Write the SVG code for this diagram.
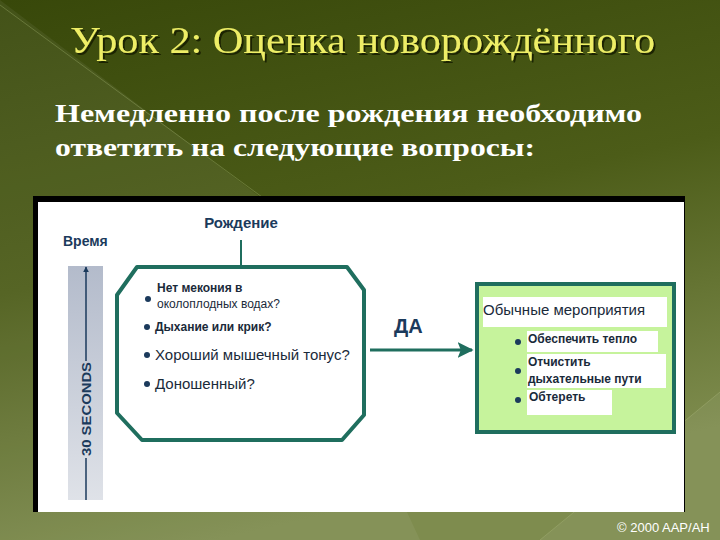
<svg xmlns="http://www.w3.org/2000/svg" width="720" height="540" viewBox="0 0 720 540">
<defs>
<linearGradient id="bg" x1="0" y1="0" x2="0.3" y2="1">
<stop offset="0" stop-color="#38480a"/>
<stop offset="0.5" stop-color="#4c5c18"/>
<stop offset="1" stop-color="#7e8c4e"/>
</linearGradient>
<linearGradient id="bar" x1="0" y1="0" x2="0" y2="1">
<stop offset="0" stop-color="#b3bbcb"/>
<stop offset="1" stop-color="#dfe2e8"/>
</linearGradient>
<filter id="sh" x="-5%" y="-20%" width="110%" height="150%">
<feDropShadow dx="2" dy="2" stdDeviation="0.6" flood-color="#141a00" flood-opacity="0.9"/>
</filter>
<marker id="ah" viewBox="0 0 10 10" refX="9" refY="5" markerWidth="6" markerHeight="6" markerUnits="userSpaceOnUse" orient="auto">
<path d="M0,0 L10,5 L0,10 Z" fill="#1b3a5c"/>
</marker>
<marker id="ah2" viewBox="0 0 10 10" refX="9" refY="5" markerWidth="16" markerHeight="16" markerUnits="userSpaceOnUse" orient="auto">
<path d="M0,0 L10,5 L0,10 L2,5 Z" fill="#1f6e5e"/>
</marker>
</defs>
<style>
.nv{fill:#1b3a5c;font-family:"Liberation Sans",Arial,sans-serif}
.dk{fill:#1a2a3a;font-family:"Liberation Sans",Arial,sans-serif}
.dot{fill:#1b3a5c}
.wb{fill:#ffffff}
</style>
<rect width="720" height="540" fill="url(#bg)"/>
<path d="M0,0 L0,540 L420,540 L260,197 Z" fill="#ffffff" opacity="0.06"/>
<path d="M0,5 L262,197" stroke="#8a9a5a" stroke-width="1" opacity="0.5"/>
<path d="M720,392 L540,540 L720,540 Z" fill="#ffffff" opacity="0.06"/>
<path d="M720,392 L540,540" stroke="#a0ad72" stroke-width="1" opacity="0.5"/>
<g id="title">
<text x="70" y="53" font-family="Liberation Serif,Times New Roman,serif" font-size="38" fill="#eeee66" filter="url(#sh)" textLength="585" lengthAdjust="spacingAndGlyphs">Урок 2: Оценка новорождённого</text>
</g>
<g id="subtitle" font-family="Liberation Serif,Times New Roman,serif" font-size="26" font-weight="bold" fill="#ffffff">
<text x="55" y="122" textLength="587" lengthAdjust="spacingAndGlyphs">Немедленно после рождения необходимо</text>
<text x="55" y="156" textLength="480" lengthAdjust="spacingAndGlyphs">ответить на следующие вопросы:</text>
</g>
<rect x="33" y="196" width="652" height="316" fill="#000000"/>
<rect x="38" y="202" width="646" height="310" fill="#ffffff"/>
<g id="time">
<rect x="68" y="266" width="35" height="234" fill="url(#bar)"/>
<text x="63" y="246" class="nv" font-size="14" font-weight="bold">Время</text>
<line x1="86" y1="500" x2="86" y2="458" stroke="#1b3a5c" stroke-width="1.5"/>
<line x1="86" y1="361" x2="86" y2="267" stroke="#1b3a5c" stroke-width="1.5" marker-end="url(#ah)"/>
<text transform="translate(91,409) rotate(-90)" text-anchor="middle" class="nv" font-size="12" font-weight="bold" textLength="94" lengthAdjust="spacingAndGlyphs">30 SECONDS</text>
</g>
<g id="birth">
<text x="241" y="228" text-anchor="middle" class="nv" font-size="15" font-weight="bold">Рождение</text>
<line x1="241" y1="240" x2="241" y2="267" stroke="#1f6e5e" stroke-width="2"/>
</g>
<g id="questions">
<polygon points="137,267 347,267 364,290 364,415 342,440 142,440 117,413 117,295" fill="#ffffff" stroke="#1f6e5e" stroke-width="4" stroke-linejoin="round"/>
<circle cx="148" cy="299" r="3" class="dot"/>
<text x="157" y="292" class="dk" font-size="12" font-weight="bold">Нет мекония в</text>
<text x="157" y="308" class="dk" font-size="12">околоплодных водах?</text>
<circle cx="147" cy="327" r="3" class="dot"/>
<text x="155" y="331" class="dk" font-size="12" font-weight="bold">Дыхание или крик?</text>
<circle cx="147" cy="355" r="3" class="dot"/>
<text x="155" y="360" class="dk" font-size="15">Хороший мышечный тонус?</text>
<circle cx="147" cy="384" r="3" class="dot"/>
<text x="155" y="389" class="dk" font-size="15">Доношенный?</text>
</g>
<g id="connectors">
<line x1="370" y1="350" x2="472" y2="350" stroke="#1f6e5e" stroke-width="3" marker-end="url(#ah2)"/>
<text x="394" y="333" class="nv" font-size="20" font-weight="bold">ДА</text>
</g>
<g id="routine">
<rect x="477" y="284" width="197" height="148" fill="#c6f39c" stroke="#1f6e5e" stroke-width="4"/>
<rect x="483" y="297" width="184" height="30" class="wb"/>
<text x="483" y="315" class="dk" font-size="15">Обычные мероприятия</text>
<rect x="527" y="331" width="131" height="21" class="wb"/>
<rect x="527" y="354" width="139" height="34" class="wb"/>
<rect x="527" y="390" width="85" height="25" class="wb"/>
<circle cx="518" cy="342" r="3" class="dot"/>
<text x="528" y="343" class="dk" font-size="12" font-weight="bold">Обеспечить тепло</text>
<circle cx="518" cy="371" r="3" class="dot"/>
<text x="528" y="366" class="dk" font-size="12" font-weight="bold">Отчистить</text>
<text x="528" y="383" class="dk" font-size="12" font-weight="bold">дыхательные пути</text>
<circle cx="518" cy="400" r="3" class="dot"/>
<text x="529" y="401" class="dk" font-size="12" font-weight="bold">Обтереть</text>
</g>
<text x="617" y="532" font-family="Liberation Sans,Arial,sans-serif" font-size="13" fill="#ffffff">© 2000 AAP/AH</text>
</svg>
